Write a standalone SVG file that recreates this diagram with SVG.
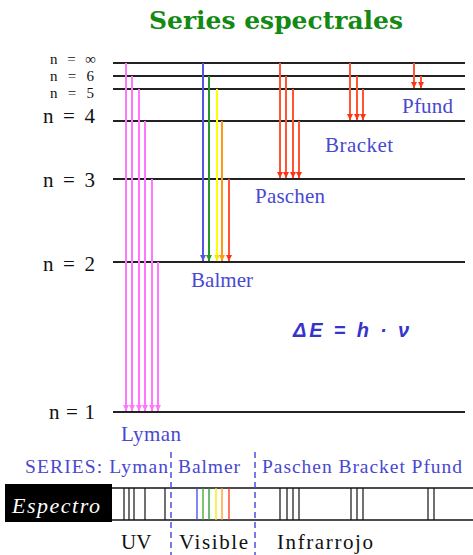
<svg xmlns="http://www.w3.org/2000/svg" width="473" height="555" viewBox="0 0 473 555">
<style>
.lvl{stroke:#222;stroke-width:2}
.lab{font-family:"Liberation Serif","Times New Roman",serif;font-size:21px;fill:#111}
.labs{font-family:"Liberation Serif","Times New Roman",serif;font-size:15px;fill:#111}
.ser{font-family:"Liberation Serif","Times New Roman",serif;font-size:21px;fill:#4848d0}
.ser2{font-family:"Liberation Serif","Times New Roman",serif;font-size:19.5px;fill:#4848d0}
.bot{font-family:"Liberation Serif","Times New Roman",serif;font-size:21px;fill:#111}
.tr{stroke-width:2;fill:none}
.pk{stroke:#ff77ff}
.bl{stroke:#5555dd}
.gr{stroke:#22992a}
.ye{stroke:#ffff00}
.or{stroke:#ff9911}
.rd{stroke:#ff5533}
.sp{stroke:#111;stroke-width:1.2}
.dash{stroke:#4d4de0;stroke-width:1.5;stroke-dasharray:6 4}
</style>
<defs>
<marker id="mpk" markerUnits="userSpaceOnUse" markerWidth="8" markerHeight="8" refX="6" refY="3.5" orient="auto"><path d="M0,0.5 L6,3.5 L0,6.5 Z" fill="#ff77ff"/></marker>
<marker id="mbl" markerUnits="userSpaceOnUse" markerWidth="8" markerHeight="8" refX="6" refY="3.5" orient="auto"><path d="M0,0.5 L6,3.5 L0,6.5 Z" fill="#5555dd"/></marker>
<marker id="mgr" markerUnits="userSpaceOnUse" markerWidth="8" markerHeight="8" refX="6" refY="3.5" orient="auto"><path d="M0,0.5 L6,3.5 L0,6.5 Z" fill="#22992a"/></marker>
<marker id="mye" markerUnits="userSpaceOnUse" markerWidth="8" markerHeight="8" refX="6" refY="3.5" orient="auto"><path d="M0,0.5 L6,3.5 L0,6.5 Z" fill="#eeee00"/></marker>
<marker id="mor" markerUnits="userSpaceOnUse" markerWidth="8" markerHeight="8" refX="6" refY="3.5" orient="auto"><path d="M0,0.5 L6,3.5 L0,6.5 Z" fill="#ff9911"/></marker>
<marker id="mrd" markerUnits="userSpaceOnUse" markerWidth="8" markerHeight="8" refX="6" refY="3.5" orient="auto"><path d="M0,0.5 L6,3.5 L0,6.5 Z" fill="#ff3311"/></marker>
</defs>
<rect width="473" height="555" fill="#fff"/>
<text x="149" y="29" textLength="254" lengthAdjust="spacingAndGlyphs" font-family="DejaVu Serif,Liberation Serif,serif" font-size="24" font-weight="bold" fill="#148a14">Series espectrales</text>

<g id="levels">
<line class="lvl" x1="113" y1="63" x2="465" y2="63"/>
<line class="lvl" x1="113" y1="76" x2="465" y2="76"/>
<line class="lvl" x1="113" y1="89" x2="465" y2="89"/>
<line class="lvl" x1="113" y1="121" x2="465" y2="121"/>
<line class="lvl" x1="113" y1="179" x2="465" y2="179"/>
<line class="lvl" x1="113" y1="262" x2="465" y2="262"/>
<line class="lvl" x1="113" y1="412" x2="465" y2="412"/>
<text class="labs" x="50" y="64" textLength="46" lengthAdjust="spacing">n = ∞</text>
<text class="labs" x="50" y="81" textLength="44" lengthAdjust="spacing">n = 6</text>
<text class="labs" x="50" y="98" textLength="44" lengthAdjust="spacing">n = 5</text>
<text class="lab" x="43" y="123" textLength="52" lengthAdjust="spacing">n = 4</text>
<text class="lab" x="43" y="187" textLength="52" lengthAdjust="spacing">n = 3</text>
<text class="lab" x="43" y="271" textLength="52" lengthAdjust="spacing">n = 2</text>
<text class="lab" x="49" y="419" textLength="46" lengthAdjust="spacing">n = 1</text>
</g>

<g id="connectors">
<line class="tr pk" x1="126" y1="63" x2="126" y2="411" marker-end="url(#mpk)"/>
<line class="tr pk" x1="132" y1="76" x2="132" y2="411" marker-end="url(#mpk)"/>
<line class="tr pk" x1="139" y1="89" x2="139" y2="411" marker-end="url(#mpk)"/>
<line class="tr pk" x1="145" y1="121" x2="145" y2="411" marker-end="url(#mpk)"/>
<line class="tr pk" x1="152" y1="179" x2="152" y2="411" marker-end="url(#mpk)"/>
<line class="tr pk" x1="158" y1="262" x2="158" y2="411" marker-end="url(#mpk)"/>

<line class="tr bl" x1="203" y1="63" x2="203" y2="261" marker-end="url(#mbl)"/>
<line class="tr gr" x1="209" y1="76" x2="209" y2="261" marker-end="url(#mgr)"/>
<line class="tr ye" x1="217" y1="89" x2="217" y2="261" marker-end="url(#mye)"/>
<line class="tr or" x1="222" y1="121" x2="222" y2="261" marker-end="url(#mor)"/>
<line class="tr rd" x1="229" y1="179" x2="229" y2="261" marker-end="url(#mrd)"/>

<line class="tr rd" x1="280" y1="63" x2="280" y2="178" marker-end="url(#mrd)"/>
<line class="tr rd" x1="286" y1="76" x2="286" y2="178" marker-end="url(#mrd)"/>
<line class="tr rd" x1="293" y1="89" x2="293" y2="178" marker-end="url(#mrd)"/>
<line class="tr rd" x1="299" y1="121" x2="299" y2="178" marker-end="url(#mrd)"/>

<line class="tr rd" x1="350" y1="63" x2="350" y2="120" marker-end="url(#mrd)"/>
<line class="tr rd" x1="357" y1="76" x2="357" y2="120" marker-end="url(#mrd)"/>
<line class="tr rd" x1="363" y1="89" x2="363" y2="120" marker-end="url(#mrd)"/>

<line class="tr rd" x1="414" y1="63" x2="414" y2="88" marker-end="url(#mrd)"/>
<line class="tr rd" x1="421" y1="76" x2="421" y2="88" marker-end="url(#mrd)"/>
</g>

<g id="series-labels">
<text class="ser" x="402" y="113" textLength="51" lengthAdjust="spacing">Pfund</text>
<text class="ser" x="325" y="152" textLength="68" lengthAdjust="spacing">Bracket</text>
<text class="ser" x="255" y="203" textLength="70" lengthAdjust="spacing">Paschen</text>
<text class="ser" x="191" y="287" textLength="62" lengthAdjust="spacing">Balmer</text>
<text class="ser" x="121" y="441" textLength="60" lengthAdjust="spacing">Lyman</text>
</g>

<text x="293" y="337" textLength="116" lengthAdjust="spacing" font-family="Liberation Sans,Arial,sans-serif" font-size="20" font-style="italic" font-weight="bold" fill="#3535c8">ΔE = h · ν</text>

<g id="spectrum">
<text class="ser2" x="25" y="473" textLength="143" lengthAdjust="spacing">SERIES: Lyman</text>
<text class="ser2" x="178" y="473" textLength="62" lengthAdjust="spacing">Balmer</text>
<text class="ser2" x="262" y="473" textLength="200" lengthAdjust="spacing">Paschen Bracket Pfund</text>
<line x1="112" y1="488" x2="473" y2="488" stroke="#111" stroke-width="1.5"/>
<line x1="112" y1="520" x2="473" y2="520" stroke="#111" stroke-width="1.5"/>
<rect x="5" y="484" width="107" height="38" fill="#000"/>
<text x="12" y="513" font-family="Liberation Serif,Times New Roman,serif" font-size="22" font-style="italic" fill="#fff" textLength="88" lengthAdjust="spacing">Espectro</text>
<line class="sp" x1="124" y1="488" x2="124" y2="520"/>
<line class="sp" x1="129" y1="488" x2="129" y2="520"/>
<line class="sp" x1="134" y1="488" x2="134" y2="520"/>
<line class="sp" x1="145" y1="488" x2="145" y2="520"/>
<line class="sp" x1="165" y1="488" x2="165" y2="520"/>
<line x1="197" y1="488" x2="197" y2="520" stroke="#4444ee" stroke-width="1.3"/>
<line x1="203" y1="488" x2="203" y2="520" stroke="#33aa22" stroke-width="1.3"/>
<line x1="209" y1="488" x2="209" y2="520" stroke="#229922" stroke-width="1.3"/>
<line x1="216" y1="488" x2="216" y2="520" stroke="#eeee00" stroke-width="1.3"/>
<line x1="222" y1="488" x2="222" y2="520" stroke="#ff9911" stroke-width="1.3"/>
<line x1="229" y1="488" x2="229" y2="520" stroke="#ff3311" stroke-width="1.3"/>
<line class="sp" x1="280" y1="488" x2="280" y2="520"/>
<line class="sp" x1="287" y1="488" x2="287" y2="520"/>
<line class="sp" x1="293" y1="488" x2="293" y2="520"/>
<line class="sp" x1="299" y1="488" x2="299" y2="520"/>
<line class="sp" x1="351" y1="488" x2="351" y2="520"/>
<line class="sp" x1="357" y1="488" x2="357" y2="520"/>
<line class="sp" x1="363" y1="488" x2="363" y2="520"/>
<line class="sp" x1="428" y1="488" x2="428" y2="520"/>
<line class="sp" x1="434" y1="488" x2="434" y2="520"/>
<line class="dash" x1="171" y1="452" x2="171" y2="555"/>
<line class="dash" x1="255" y1="452" x2="255" y2="555"/>
<text class="bot" x="121" y="549">UV</text>
<text class="bot" x="179" y="549" textLength="69" lengthAdjust="spacing">Visible</text>
<text class="bot" x="277" y="549" textLength="96" lengthAdjust="spacing">Infrarrojo</text>
</g>
</svg>
